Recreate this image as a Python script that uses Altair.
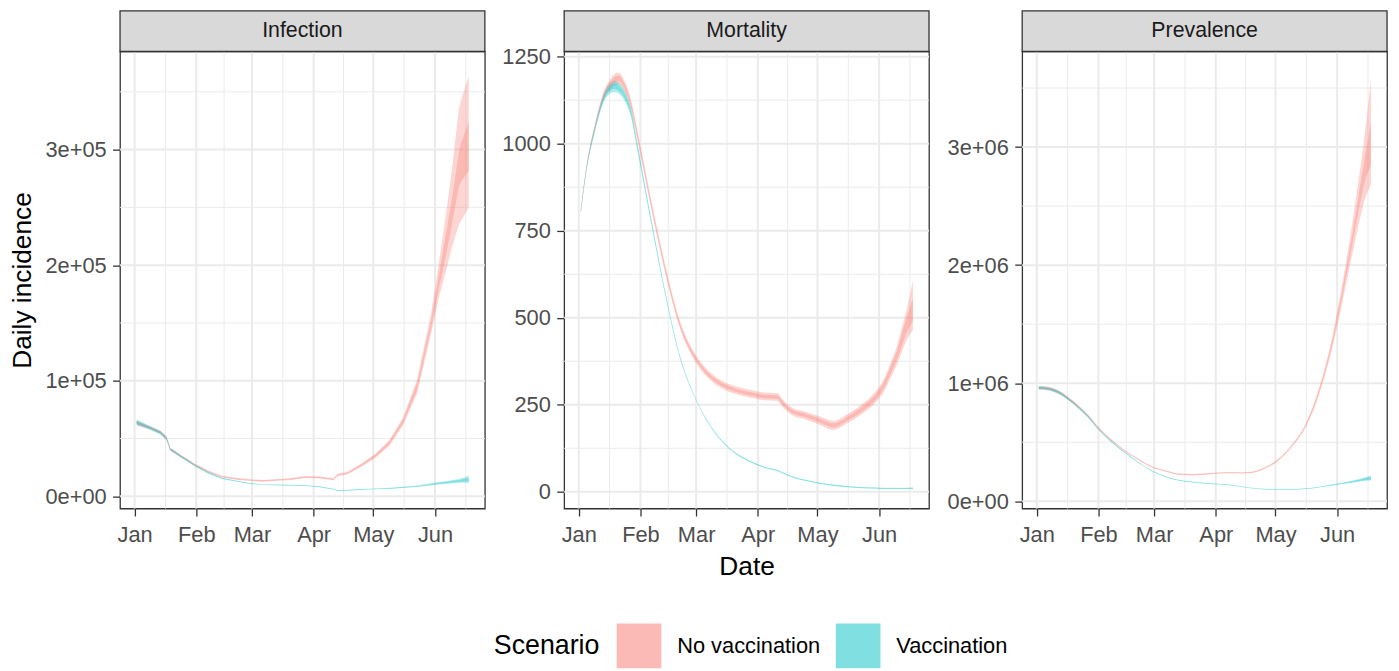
import altair as alt
import pandas as pd

# ---------------- data ----------------
DATES = ["2021-01-02", "2021-01-05", "2021-01-09", "2021-01-14", "2021-01-17", "2021-01-19",
         "2021-01-21", "2021-01-24", "2021-01-27", "2021-01-31", "2021-02-07", "2021-02-14",
         "2021-02-21", "2021-02-28", "2021-03-07", "2021-03-14", "2021-03-21", "2021-03-28",
         "2021-04-04", "2021-04-11", "2021-04-13", "2021-04-18", "2021-04-25", "2021-05-02",
         "2021-05-09", "2021-05-16", "2021-05-23", "2021-05-30", "2021-06-03", "2021-06-07",
         "2021-06-10", "2021-06-13", "2021-06-14", "2021-06-18"]

SCENARIOS = ["No vaccination", "Vaccination"]
COLORS = ["#F8766D", "#00BFC4"]
PANELS = ["Infection", "Mortality", "Prevalence"]

# Infection - No vaccination
INF_NV_LO95 = [61500, 59800, 57500, 54000, 49000, 39300, 37300, 33900, 31000, 26500, 20600, 16200, 14400, 13200, 12600, 13400, 14200, 15800, 15400, 13800, 17400, 18900, 25600, 33200, 43500, 61500, 89000, 140000, 172000, 198000, 218000, 235000, 238000, 250000]
INF_NV_LO50 = [62500, 60700, 58300, 54800, 49800, 39900, 37900, 34500, 31500, 27000, 21100, 16600, 14800, 13600, 13000, 13800, 14600, 16300, 15900, 14300, 17900, 19400, 26300, 34100, 44800, 63300, 92000, 145000, 180000, 212000, 240000, 268000, 272000, 282000]
INF_NV_HI50 = [64500, 62300, 59700, 56200, 51200, 41100, 39100, 35500, 32500, 28000, 21900, 17400, 15600, 14400, 13800, 14600, 15400, 17100, 16700, 15100, 18900, 20600, 27700, 35900, 47200, 66700, 98000, 152000, 192000, 232000, 262000, 298000, 305000, 324000]
INF_NV_HI95 = [65500, 63200, 60500, 57000, 52000, 41700, 39700, 36100, 33000, 28500, 22400, 17800, 16000, 14800, 14200, 15000, 15800, 17600, 17200, 15600, 19400, 21100, 28400, 36800, 48500, 68500, 101000, 158000, 202000, 250000, 290000, 335000, 342000, 364000]
# Infection - Vaccination
INF_V_LO95 = [61500, 60000, 57300, 53400, 48500, 39300, 37200, 33800, 30600, 26200, 19600, 14900, 12700, 10600, 9700, 9400, 9100, 8800, 7900, 5700, 4600, 4800, 5400, 6000, 6300, 7100, 8000, 9400, 10100, 10700, 11200, 11600, 11800, 11500]
INF_V_LO50 = [62800, 61000, 58200, 54200, 49300, 39900, 37700, 34300, 31000, 26600, 19900, 15200, 12900, 10800, 9900, 9600, 9300, 9000, 8100, 5900, 4800, 5000, 5600, 6200, 6600, 7400, 8400, 9900, 10700, 11400, 12000, 12500, 12700, 13000]
INF_V_HI50 = [65200, 63000, 59800, 55800, 50700, 41100, 38900, 35300, 32000, 27400, 20700, 15800, 13500, 11200, 10300, 10000, 9700, 9400, 8500, 6300, 5200, 5400, 6000, 6600, 7000, 8000, 9000, 10700, 11700, 12600, 13400, 14100, 14500, 15600]
INF_V_HI95 = [66500, 64000, 60700, 56600, 51500, 41700, 39400, 35800, 32400, 27800, 21000, 16100, 13700, 11400, 10500, 10200, 9900, 9600, 8700, 6500, 5400, 5600, 6200, 6800, 7300, 8300, 9400, 11200, 12300, 13300, 14200, 15000, 15400, 17800]

# Mortality - No vaccination
MOR_NV_LO95 = [799, 928, 1036, 1133, 1157, 1167, 1171, 1149, 1103, 996, 797, 615, 467, 379, 327, 297, 281, 271, 263, 261, 247, 221, 208, 193, 178, 197, 222, 255, 284, 330, 366, 410, 425, 464]
MOR_NV_LO50 = [802, 932, 1041, 1139, 1165, 1176, 1180, 1157, 1111, 1003, 804, 621, 473, 385, 333, 303, 287, 277, 269, 267, 253, 227, 214, 199, 185, 204, 229, 263, 293, 341, 380, 428, 445, 490]
MOR_NV_HI50 = [808, 938, 1049, 1151, 1179, 1192, 1196, 1173, 1125, 1017, 816, 633, 483, 395, 343, 313, 297, 287, 279, 277, 263, 237, 224, 211, 197, 216, 243, 279, 311, 363, 406, 466, 485, 556]
MOR_NV_HI95 = [811, 942, 1054, 1157, 1187, 1201, 1205, 1181, 1133, 1024, 823, 639, 489, 401, 349, 319, 303, 293, 285, 283, 269, 243, 230, 217, 204, 223, 250, 287, 320, 374, 420, 484, 505, 607]
# Mortality - Vaccination
MOR_V_LO95 = [799, 926, 1031, 1125, 1145, 1149, 1144, 1123, 1082, 964, 752, 550, 381, 275, 198, 144, 108, 86, 69, 59, 54, 42, 31, 23, 17, 13, 10, 9, 8, 8, 8, 8, 8, 7]
MOR_V_LO50 = [802, 930, 1036, 1131, 1153, 1157, 1152, 1131, 1089, 970, 756, 553, 383, 276, 199, 145, 109, 87, 70, 60, 55, 43, 32, 24, 18, 14, 11, 10, 9, 9, 9, 9, 9, 9]
MOR_V_HI50 = [808, 936, 1044, 1143, 1167, 1173, 1168, 1145, 1101, 980, 764, 559, 387, 278, 201, 147, 111, 89, 72, 62, 57, 45, 34, 26, 20, 16, 13, 12, 11, 11, 11, 11, 11, 11]
MOR_V_HI95 = [811, 940, 1049, 1149, 1175, 1181, 1176, 1153, 1108, 986, 768, 562, 389, 279, 202, 148, 112, 90, 73, 63, 58, 46, 35, 27, 21, 17, 14, 13, 12, 12, 12, 12, 12, 13]

# Prevalence - No vaccination
PRE_NV_LO95 = [945000, 943000, 930000, 891000, 855000, 829000, 803000, 759000, 710000, 631000, 517000, 423000, 349000, 284000, 249000, 222000, 218000, 226000, 234000, 235000, 233000, 236000, 269000, 337000, 455000, 620000, 905000, 1330000, 1630000, 1960000, 2200000, 2430000, 2500000, 2680000]
PRE_NV_LO50 = [953000, 951000, 938000, 898000, 862000, 836000, 809000, 765000, 715000, 636000, 521000, 427000, 352000, 287000, 252000, 225000, 221000, 229000, 237000, 238000, 236000, 239000, 273000, 341000, 460000, 628000, 922000, 1360000, 1680000, 2030000, 2300000, 2560000, 2640000, 2850000]
PRE_NV_HI50 = [967000, 965000, 952000, 912000, 874000, 848000, 821000, 775000, 725000, 644000, 529000, 433000, 358000, 293000, 258000, 231000, 227000, 235000, 243000, 244000, 242000, 245000, 279000, 349000, 470000, 642000, 948000, 1400000, 1740000, 2110000, 2400000, 2720000, 2820000, 3210000]
PRE_NV_HI95 = [975000, 973000, 960000, 919000, 881000, 855000, 827000, 781000, 730000, 649000, 533000, 437000, 361000, 296000, 261000, 234000, 230000, 238000, 246000, 247000, 245000, 248000, 283000, 353000, 475000, 650000, 965000, 1430000, 1790000, 2180000, 2510000, 2870000, 2990000, 3580000]
# Prevalence - Vaccination
PRE_V_LO95 = [947000, 944000, 930000, 890000, 853000, 827000, 799000, 753000, 702000, 622000, 505000, 410000, 325000, 252000, 201000, 172000, 156000, 146000, 140000, 128000, 122000, 110000, 100000, 96000, 96000, 103000, 117000, 133000, 144000, 153000, 160000, 168000, 171000, 175000]
PRE_V_LO50 = [953000, 950000, 936000, 896000, 858000, 832000, 805000, 758000, 707000, 626000, 508000, 413000, 327000, 254000, 203000, 174000, 158000, 148000, 141000, 129000, 123000, 111000, 101000, 97000, 97000, 104000, 118000, 135000, 147000, 157000, 165000, 174000, 177000, 185000]
PRE_V_HI50 = [967000, 964000, 950000, 908000, 870000, 844000, 815000, 768000, 717000, 634000, 516000, 419000, 333000, 258000, 207000, 178000, 162000, 152000, 145000, 133000, 127000, 115000, 105000, 101000, 101000, 108000, 122000, 141000, 153000, 165000, 175000, 186000, 191000, 205000]
PRE_V_HI95 = [973000, 970000, 956000, 914000, 875000, 849000, 820000, 773000, 722000, 638000, 519000, 422000, 335000, 260000, 209000, 180000, 164000, 154000, 146000, 134000, 128000, 116000, 106000, 102000, 102000, 109000, 123000, 143000, 156000, 169000, 180000, 192000, 197000, 215000]

# gridline positions (ggplot major / minor breaks)
MAJOR_X = ["2021-01-01", "2021-02-01", "2021-03-01", "2021-04-01", "2021-05-01", "2021-06-01"]
MINOR_X = ["2021-01-16T12:00:00Z", "2021-02-15T00:00:00Z", "2021-03-16T12:00:00Z",
           "2021-04-16T00:00:00Z", "2021-05-16T12:00:00Z", "2021-06-16T12:00:00Z"]

INF_MAJOR = [0, 100000, 200000, 300000]
INF_MINOR = [50000, 150000, 250000, 350000]
MOR_MAJOR = [0, 250, 500, 750, 1000, 1250]
MOR_MINOR = [125, 375, 625, 875, 1125]
PRE_MAJOR = [0, 1000000, 2000000, 3000000]
PRE_MINOR = [500000, 1500000, 2500000, 3500000]

# ---------------- styling ----------------
W, H, STRIP = 368, 461, 41
GRID = "#EBEBEB"
DARK = "#333333"
FONT = "Liberation Sans"

X_DOMAIN = [alt.DateTime(year=2020, month=12, date=24, hours=16, utc=True),
            alt.DateTime(year=2021, month=6, date=26, hours=2, utc=True)]
MONTH_TICKS = [alt.DateTime(year=2021, month=m, date=1, utc=True) for m in range(1, 7)]

LEGEND = alt.Legend(
    title="Scenario", orient="none", legendX=377, legendY=577, direction="horizontal",
    titleOrient="left", titleAnchor="middle", titleBaseline="middle",
    symbolType="square", symbolSize=2025, symbolOpacity=0.5, symbolStrokeWidth=0,
    labelFontSize=22, titleFontSize=27, labelOffset=16, columnPadding=15,
    titlePadding=17, labelColor="black", titleColor="black", titleFontWeight="normal",
    labelFont=FONT, titleFont=FONT,
)
COLOR = alt.Color("Scenario:N", scale=alt.Scale(domain=SCENARIOS, range=COLORS), legend=LEGEND)


def long_df(nv, v):
    rows = []
    for sc, arrs in zip(SCENARIOS, [nv, v]):
        lo95, lo50, hi50, hi95 = arrs
        for i, d in enumerate(DATES):
            rows.append({"date": d, "Scenario": sc, "lo95": lo95[i], "lo50": lo50[i],
                         "hi50": hi50[i], "hi95": hi95[i]})
    return pd.DataFrame(rows)


def panel(name, df, y_domain, y_major, y_minor, y_label_kw, extent, y_title, x_title, interp):
    xs = alt.Scale(type="utc", domain=X_DOMAIN, nice=False)
    ys = alt.Scale(domain=y_domain, nice=False, zero=False)
    xaxis = alt.Axis(values=MONTH_TICKS, labelExpr="utcFormat(datum.value, '%b')",
                     labelFlush=False, labelPadding=9, titlePadding=8, grid=False, domain=False)
    yaxis = alt.Axis(values=y_major, labelFlush=False, minExtent=extent, maxExtent=extent,
                     labelPadding=6.5, titlePadding=8, grid=False, domain=False, **y_label_kw)
    x_enc = alt.X("date:T", scale=xs, axis=xaxis, title=x_title)

    def y_enc(field):
        return alt.Y(f"{field}:Q", scale=ys, axis=yaxis, title=y_title)

    gx_minor = alt.Chart(pd.DataFrame({"date": MINOR_X})).mark_rule(
        color=GRID, strokeWidth=1).encode(x=x_enc)
    gx_major = alt.Chart(pd.DataFrame({"date": MAJOR_X})).mark_rule(
        color=GRID, strokeWidth=2).encode(x=x_enc)
    gy_minor = alt.Chart(pd.DataFrame({"v": y_minor})).mark_rule(
        color=GRID, strokeWidth=1).encode(y=y_enc("v"))
    gy_major = alt.Chart(pd.DataFrame({"v": y_major})).mark_rule(
        color=GRID, strokeWidth=2).encode(y=y_enc("v"))

    outer = alt.Chart(df).mark_area(opacity=0.3, interpolate=interp).encode(
        x=x_enc, y=y_enc("lo95"), y2="hi95:Q", color=COLOR)
    inner = alt.Chart(df).mark_area(opacity=0.3, interpolate=interp).encode(
        x=x_enc, y=y_enc("lo50"), y2="hi50:Q", color=COLOR)

    strip_df = pd.DataFrame({"panel": [name]})
    strip_rect = alt.Chart(strip_df).mark_rect(
        fill="#D9D9D9", stroke=DARK, strokeWidth=1.3).encode(
        x=alt.value(0), x2=alt.value(W), y=alt.value(-STRIP), y2=alt.value(0))
    strip_text = alt.Chart(strip_df).mark_text(
        font=FONT, fontSize=21.5, color="#1A1A1A", align="center", baseline="middle").encode(
        x=alt.value(W / 2), y=alt.value(-STRIP / 2), text="panel:N")

    return alt.layer(gx_minor, gy_minor, gx_major, gy_major, outer, inner,
                     strip_rect, strip_text).properties(width=W, height=H)


SCI = {"labelExpr": "replace(format(datum.value, '.0e'), 'e+', 'e+0')"}

p1 = panel(PANELS[0],
           long_df((INF_NV_LO95, INF_NV_LO50, INF_NV_HI50, INF_NV_HI95),
                   (INF_V_LO95, INF_V_LO50, INF_V_HI50, INF_V_HI95)),
           [-10600, 384900], INF_MAJOR, INF_MINOR, SCI, 76, "Daily incidence", None, "linear")
p2 = panel(PANELS[1],
           long_df((MOR_NV_LO95, MOR_NV_LO50, MOR_NV_HI50, MOR_NV_HI95),
                   (MOR_V_LO95, MOR_V_LO50, MOR_V_HI50, MOR_V_HI95)),
           [-48, 1265], MOR_MAJOR, MOR_MINOR, {"format": "d"}, 69, None, "Date", "monotone")
p3 = panel(PANELS[2],
           long_df((PRE_NV_LO95, PRE_NV_LO50, PRE_NV_HI50, PRE_NV_HI95),
                   (PRE_V_LO95, PRE_V_LO50, PRE_V_HI50, PRE_V_HI95)),
           [-62000, 3810000], PRE_MAJOR, PRE_MINOR, SCI, 83, None, None, "monotone")

chart = alt.hconcat(p1, p2, p3, spacing=8).properties(
    padding={"left": 1, "top": -2, "right": 2, "bottom": 0}
).configure(font=FONT).configure_view(
    stroke=DARK, strokeWidth=1.3, fill="white"
).configure_axis(
    labelFont=FONT, titleFont=FONT, labelFontSize=22, labelColor="#4D4D4D",
    titleFontSize=26.5, titleColor="black", titleFontWeight="normal",
    tickColor=DARK, tickWidth=1.3, tickSize=7.5
)

chart.save("out.html", embed_options={"renderer": "svg", "actions": False})
